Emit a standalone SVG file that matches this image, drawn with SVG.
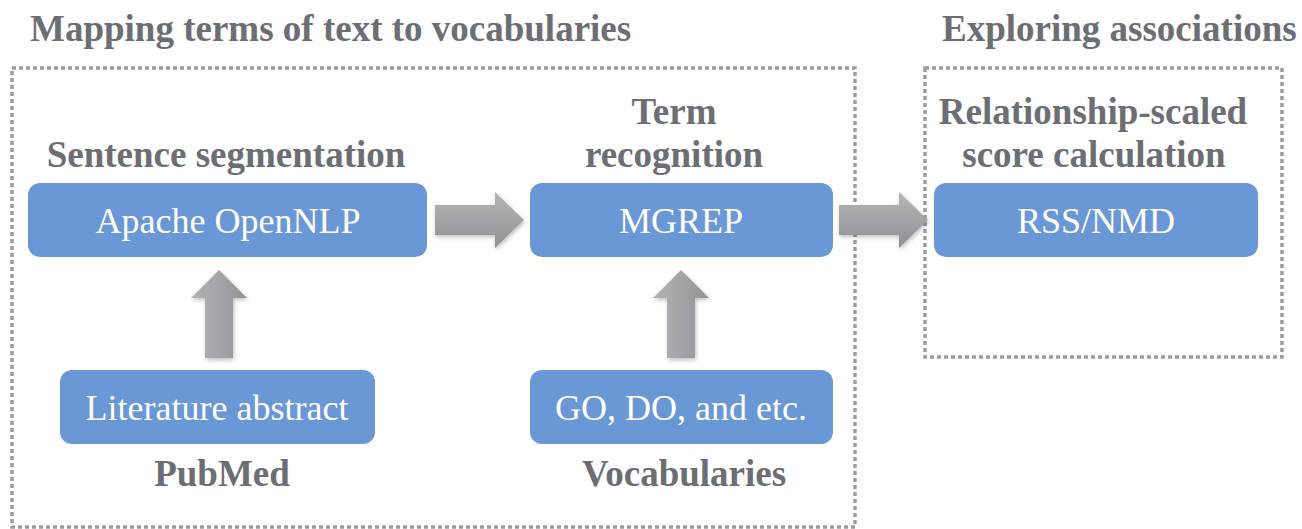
<svg xmlns="http://www.w3.org/2000/svg" width="1302" height="529" viewBox="0 0 1302 529">
  <defs>
    <linearGradient id="gH" x1="0" y1="0" x2="0" y2="1">
      <stop offset="0" stop-color="#b3b5b9"/>
      <stop offset="0.5" stop-color="#a2a4a8"/>
      <stop offset="1" stop-color="#8e9095"/>
    </linearGradient>
    <linearGradient id="gV" x1="0" y1="0" x2="1" y2="0">
      <stop offset="0" stop-color="#b0b2b6"/>
      <stop offset="0.5" stop-color="#a3a5a9"/>
      <stop offset="1" stop-color="#8f9196"/>
    </linearGradient>
    <filter id="sh" x="-30%" y="-30%" width="160%" height="160%">
      <feDropShadow dx="1" dy="2" stdDeviation="2" flood-color="#000" flood-opacity="0.25"/>
    </filter>
  </defs>

  <g id="titles">
    <text x="30" y="41" font-family="Liberation Serif" font-weight="bold" font-size="37" fill="#6c6e74">Mapping terms of text to vocabularies</text>
    <text x="942" y="41" font-family="Liberation Serif" font-weight="bold" font-size="37" fill="#6c6e74">Exploring associations</text>
  </g>

  <g id="frames" fill="none" stroke="#9a9ca0" stroke-width="3.5" stroke-dasharray="4 3">
    <rect x="12" y="68" width="843" height="459"/>
    <rect x="925" y="68" width="357" height="289"/>
  </g>

  <g id="connectors" filter="url(#sh)">
    <path fill="url(#gH)" d="M435,205 H495 V192 L524,220 L495,248 V235 H435 Z"/>
    <path fill="url(#gH)" d="M839,205 H899 V192 L928,220 L899,248 V235 H839 Z"/>
    <path fill="url(#gV)" d="M205,358 V298 H191 L219,270 L247,298 H233 V358 Z"/>
    <path fill="url(#gV)" d="M667,358 V298 H653 L681,270 L709,298 H695 V358 Z"/>
  </g>

  <g id="node-sentence">
    <text x="226" y="167" text-anchor="middle" font-family="Liberation Serif" font-weight="bold" font-size="37" fill="#6c6e74">Sentence segmentation</text>
    <rect x="28" y="183" width="399" height="74" rx="12" fill="#6a98d6"/>
    <text x="228" y="233" text-anchor="middle" font-family="Liberation Serif" font-size="36" fill="#ffffff">Apache OpenNLP</text>
  </g>

  <g id="node-literature">
    <rect x="60" y="370" width="315" height="74" rx="12" fill="#6a98d6"/>
    <text x="217" y="420" text-anchor="middle" font-family="Liberation Serif" font-size="36" fill="#ffffff">Literature abstract</text>
    <text x="222" y="486" text-anchor="middle" font-family="Liberation Serif" font-weight="bold" font-size="37" fill="#6c6e74">PubMed</text>
  </g>

  <g id="node-term">
    <text x="674" y="124" text-anchor="middle" font-family="Liberation Serif" font-weight="bold" font-size="37" fill="#6c6e74">Term</text>
    <text x="674" y="167" text-anchor="middle" font-family="Liberation Serif" font-weight="bold" font-size="37" fill="#6c6e74">recognition</text>
    <rect x="530" y="183" width="303" height="74" rx="12" fill="#6a98d6"/>
    <text x="681" y="233" text-anchor="middle" font-family="Liberation Serif" font-size="36" fill="#ffffff">MGREP</text>
  </g>

  <g id="node-vocab">
    <rect x="530" y="370" width="303" height="74" rx="12" fill="#6a98d6"/>
    <text x="681" y="420" text-anchor="middle" font-family="Liberation Serif" font-size="36" fill="#ffffff">GO, DO, and etc.</text>
    <text x="684" y="486" text-anchor="middle" font-family="Liberation Serif" font-weight="bold" font-size="37" fill="#6c6e74">Vocabularies</text>
  </g>

  <g id="node-rss">
    <text x="1093" y="124" text-anchor="middle" font-family="Liberation Serif" font-weight="bold" font-size="37" fill="#6c6e74">Relationship-scaled</text>
    <text x="1094" y="167" text-anchor="middle" font-family="Liberation Serif" font-weight="bold" font-size="37" fill="#6c6e74">score calculation</text>
    <rect x="934" y="183" width="324" height="74" rx="12" fill="#6a98d6"/>
    <text x="1096" y="233" text-anchor="middle" font-family="Liberation Serif" font-size="36" fill="#ffffff">RSS/NMD</text>
  </g>
</svg>
